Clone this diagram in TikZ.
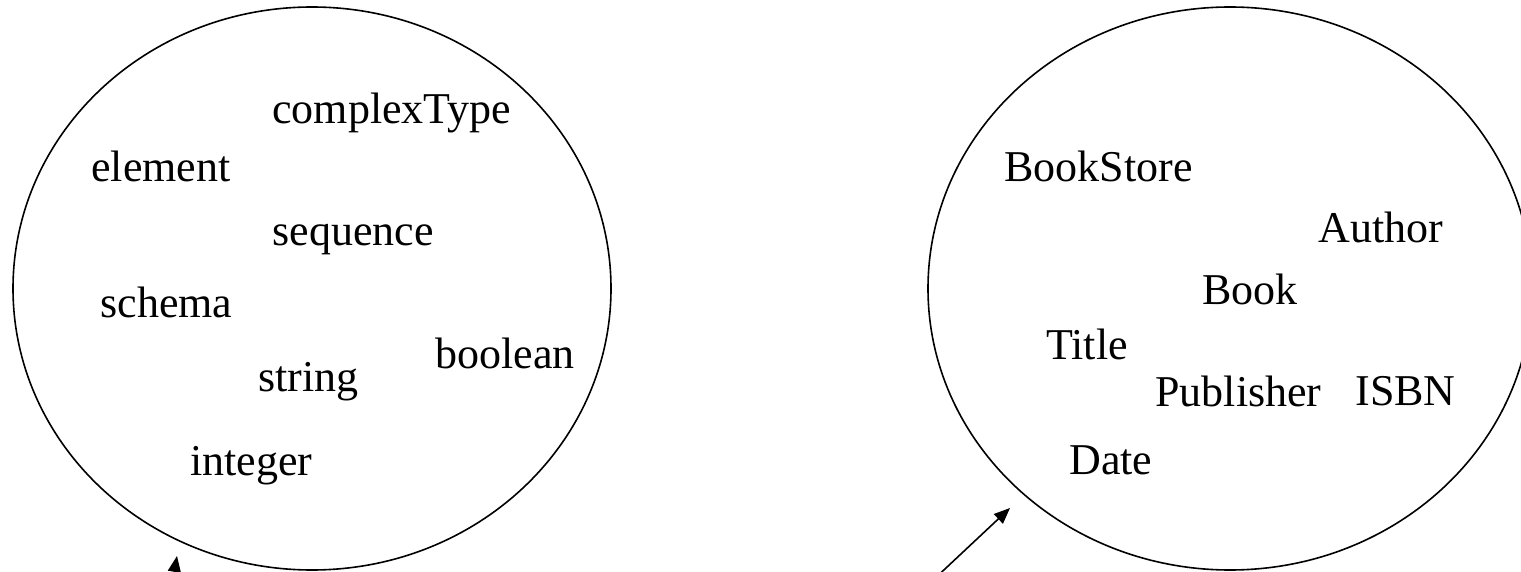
\documentclass[tikz,border=0pt]{standalone}
\usepackage{fontspec}
\setmainfont{Liberation Serif}
\usetikzlibrary{shapes.geometric,arrows.meta}
\begin{document}
\begin{tikzpicture}[x=0.5pt,y=-0.5pt,
  lbl/.style={anchor=base west,inner sep=0pt,font=\fontsize{22}{24}\selectfont},
  blob/.style={draw,ellipse,line width=0.8pt,inner sep=0pt},
  pointer/.style={line width=0.8pt,-{Triangle[length=8pt,width=6.5pt]}}]
\useasboundingbox (0,0) rectangle (1521,572);
\node[blob,minimum width=299pt,minimum height=281.5pt] (L) at (312,288.5) {};
\node[blob,minimum width=302pt,minimum height=281.5pt] (R) at (1230,288.5) {};
% left texts
\node[lbl] (complexType) at (272,124) {complexType};
\node[lbl] (element) at (91,182) {element};
\node[lbl] (sequence) at (272,246) {sequence};
\node[lbl] (schema) at (100,318) {schema};
\node[lbl] (boolean) at (435,368) {boolean};
\node[lbl] (string) at (258,391) {string};
\node[lbl] (integer) at (190,475) {integer};
% right texts
\node[lbl] (BookStore) at (1004,182) {BookStore};
\node[lbl] (Author) at (1318,243) {Author};
\node[lbl] (Book) at (1202,305) {Book};
\node[lbl] (Title) at (1046,359) {Title};
\node[lbl] (Publisher) at (1155,406) {Publisher};
\node[lbl] (ISBN) at (1355,405) {ISBN};
\node[lbl] (Date) at (1069,474) {Date};
% arrows
\coordinate (la0) at (168,610);
\coordinate (la1) at (177,556);
\coordinate (ra0) at (930,583);
\coordinate (ra1) at (1010,508);
\draw[pointer] (la0) -- (la1);
\draw[pointer] (ra0) -- (ra1);
\end{tikzpicture}
\end{document}
